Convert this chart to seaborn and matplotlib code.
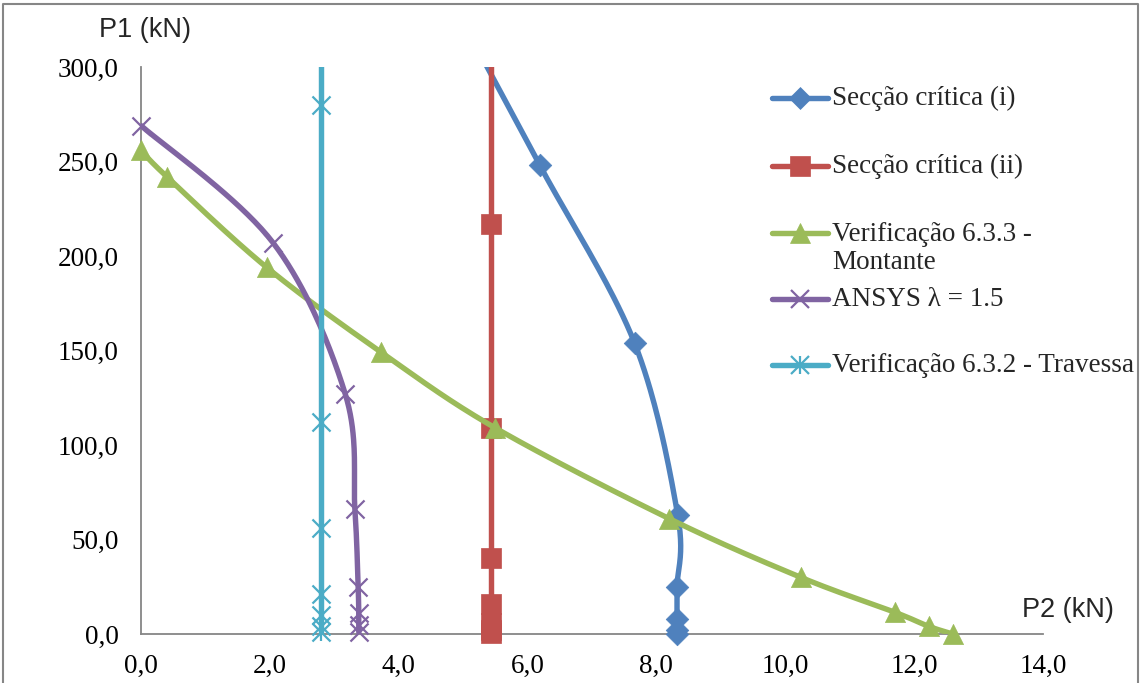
import numpy as np
import pandas as pd
import matplotlib
matplotlib.use("Agg")
import matplotlib.pyplot as plt
from matplotlib.lines import Line2D
import seaborn as sns

# ---- data (P2 in kN on x, P1 in kN on y) ----
sec_i_p2 = [4.90, 6.19, 7.66, 8.33, 8.32, 8.32, 8.32, 8.32]
sec_i_p1 = [330.0, 248.0, 154.0, 63.0, 25.0, 8.0, 2.0, 0.0]

sec_ii_p2 = [5.43, 5.43, 5.43, 5.43, 5.43, 5.43, 5.43, 5.43]
sec_ii_p1 = [330.0, 217.0, 109.0, 40.0, 16.0, 6.0, 2.0, 0.5]

mont_p2 = [0.0, 0.40, 1.95, 3.73, 5.50, 8.20, 10.24, 11.70, 12.23, 12.60]
mont_p1 = [256.0, 242.0, 194.0, 149.0, 109.0, 61.0, 30.0, 11.5, 4.0, 0.0]

ansys_p2 = [0.0, 2.05, 3.17, 3.32, 3.37, 3.38, 3.38, 3.38]
ansys_p1 = [269.0, 207.0, 127.0, 66.0, 25.0, 11.0, 5.0, 1.0]

trav_p2 = [2.79, 2.79, 2.79, 2.79, 2.79, 2.79, 2.79, 2.79]
trav_p1 = [330.0, 280.0, 112.0, 56.0, 21.0, 10.0, 4.0, 1.0]

labels = ["Secção crítica (i)", "Secção crítica (ii)",
          "Verificação 6.3.3 -\nMontante", "ANSYS λ = 1.5",
          "Verificação 6.3.2 - Travessa"]
x_ticks = [0, 2, 4, 6, 8, 10, 12, 14]
y_ticks = [0, 50, 100, 150, 200, 250, 300]

colors = ["#4F81BD", "#C0504D", "#9BBB59", "#8064A2", "#4BACC6"]
series = [(sec_i_p2, sec_i_p1), (sec_ii_p2, sec_ii_p1), (mont_p2, mont_p1),
          (ansys_p2, ansys_p1), (trav_p2, trav_p1)]
markers = ["D", "s", "^", "x", "*x"]
msizes = [11.5, 14.5, 14.5, 13, 13]

sns.set_theme(style="white")
serif = ["Liberation Serif", "DejaVu Serif"]
sans = ["Liberation Sans", "DejaVu Sans"]
fs = 19.5

W, H = 1141, 683
fig = plt.figure(figsize=(W / 100, H / 100), dpi=100)
ax = fig.add_axes([141 / W, 1 - 634 / H, (1043 - 141) / W, (634 - 67) / H])


def smooth(xs, ys, n=40):
    """Cubic Bezier smoothing through the points (Catmull-Rom style tangents)."""
    pts = np.column_stack([xs, ys]).astype(float)
    k = len(pts)
    out = [pts[0]]
    t = np.linspace(0, 1, n)[1:, None]
    for i in range(k - 1):
        p0, p1, p2, p3 = pts[max(i - 1, 0)], pts[i], pts[i + 1], pts[min(i + 2, k - 1)]
        c1 = p1 + (p2 - p0) / 6.0
        c2 = p2 - (p3 - p1) / 6.0
        seg = ((1 - t) ** 3) * p1 + 3 * ((1 - t) ** 2) * t * c1 + 3 * (1 - t) * t ** 2 * c2 + t ** 3 * p2
        out.extend(seg)
    out = np.array(out)
    return out[:, 0], out[:, 1]


lw = 3.9
for i, ((xs, ys), col, mk, ms) in enumerate(zip(series, colors, markers, msizes)):
    sx, sy = smooth(xs, ys)
    curve = pd.DataFrame({"P2": sx, "P1": sy})
    sns.lineplot(data=curve, x="P2", y="P1", sort=False, estimator=None, ax=ax,
                 color=col, linewidth=lw, zorder=2 + 2 * i)
    pts = pd.DataFrame({"P2": xs, "P1": ys})
    pts = pts[pts["P1"] <= 300]
    if mk == "*x":
        for m in ["x", "|"]:
            sns.scatterplot(data=pts, x="P2", y="P1", marker=m, s=ms ** 2, color=col,
                            linewidth=1.6, ax=ax, zorder=3 + 2 * i, clip_on=False)
    elif mk == "x":
        sns.scatterplot(data=pts, x="P2", y="P1", marker=mk, s=ms ** 2, color=col,
                        linewidth=1.6, ax=ax, zorder=3 + 2 * i, clip_on=False)
    else:
        sns.scatterplot(data=pts, x="P2", y="P1", marker=mk, s=ms ** 2, color=col,
                        edgecolor=col, linewidth=0.5, ax=ax, zorder=3 + 2 * i, clip_on=False)

ax.set_xlim(0, 14)
ax.set_ylim(0, 300)
ax.set_xticks(x_ticks)
ax.set_yticks(y_ticks)
ax.set_xticklabels([f"{v:.1f}".replace(".", ",") for v in x_ticks], fontfamily=serif, fontsize=fs)
ax.set_yticklabels([f"{v:.1f}".replace(".", ",") for v in y_ticks], fontfamily=serif, fontsize=fs)
ax.set_xlabel("")
ax.set_ylabel("")
for side in ["top", "right"]:
    ax.spines[side].set_visible(False)
for side in ["left", "bottom"]:
    ax.spines[side].set_color("#868686")
    ax.spines[side].set_linewidth(1.3)
ax.tick_params(axis="both", which="major", direction="out", length=6, width=1.3,
               color="#868686", labelcolor="black")
ax.tick_params(axis="x", pad=8)
ax.tick_params(axis="y", pad=10)
ax.grid(False)

# axis titles
fig.text(145 / W, 1 - 30 / H, "P1 (kN)", fontfamily=sans, fontsize=19.5,
         ha="center", va="center")
fig.text(1068 / W, 1 - 610 / H, "P2 (kN)", fontfamily=sans, fontsize=19.5,
         ha="center", va="center")

# legend drawn entry by entry
leg_y = [98, 166, 233, 299, 365]
for lab, col, mk, ms, yy in zip(labels, colors, markers, msizes, leg_y):
    fy = 1 - yy / H
    fig.add_artist(Line2D([772 / W, 828 / W], [fy, fy], transform=fig.transFigure,
                          color=col, linewidth=lw, solid_capstyle="round"))
    mlist = ["x", "|"] if mk == "*x" else [mk]
    for m in mlist:
        fig.add_artist(Line2D([800 / W], [fy], transform=fig.transFigure, marker=m,
                              markersize=ms, color=col, markeredgecolor=col,
                              markeredgewidth=1.6 if m in ("x", "|") else 0.5,
                              linestyle="none"))
    if "\n" in lab:
        fig.text(832 / W, fy - 15.5 / H, lab, fontfamily=serif, fontsize=fs,
                 ha="left", va="center", linespacing=1.15)
    else:
        fig.text(832 / W, fy, lab, fontfamily=serif, fontsize=fs, ha="left", va="center")

# chart frame
fig.add_artist(Line2D([3 / W, 3 / W, 1138 / W, 1138 / W], [0, 1 - 4 / H, 1 - 4 / H, 0],
                      transform=fig.transFigure, color="#868686", linewidth=1.5))

fig.savefig("out.png", dpi=100)
